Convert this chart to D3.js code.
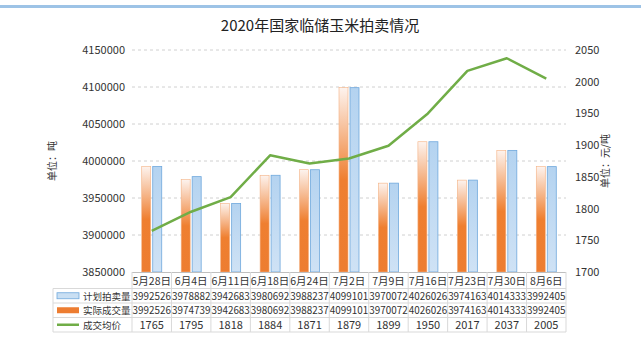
<!DOCTYPE html>
<html>
<head>
<meta charset="utf-8">
<script src="https://cdn.jsdelivr.net/npm/d3@7"></script>
<style>
  body { margin: 0; background: #fff; }
  text { font-family: "Noto Sans CJK SC", "Noto Sans", sans-serif; }
</style>
</head>
<body>
<div id="container-chart"></div>
<script>
const categories = ["5月28日", "6月4日", "6月11日", "6月18日", "6月24日", "7月2日", "7月9日", "7月16日", "7月23日", "7月30日", "8月6日"];
const planned = [3992526, 3978882, 3942683, 3980692, 3988237, 4099101, 3970072, 4026026, 3974163, 4014333, 3992405];
const actual  = [3992526, 3974739, 3942683, 3980692, 3988237, 4099101, 3970072, 4026026, 3974163, 4014333, 3992405];
const price   = [1765, 1795, 1818, 1884, 1871, 1879, 1899, 1950, 2017, 2037, 2005];
const leftTicks = [3850000, 3900000, 3950000, 4000000, 4050000, 4100000, 4150000];
const rightTicks = [1700, 1750, 1800, 1850, 1900, 1950, 2000, 2050];
const seriesNames = ["计划拍卖量", "实际成交量", "成交均价"];

const W = 641, H = 344;
const plot = {left: 132, right: 566, top: 50, bottom: 272};

const svg = d3.select("#container-chart").append("svg")
  .attr("width", W).attr("height", H);

// frame
svg.append("rect").attr("x", 0).attr("y", 0).attr("width", W).attr("height", H).attr("fill", "#fff");
svg.append("rect").attr("x", 0).attr("y", 5).attr("width", W).attr("height", 3).attr("fill", "#9dc3e6");

const defs = svg.append("defs");
const gO = defs.append("linearGradient").attr("id", "gOrange").attr("x1", 0).attr("y1", 0).attr("x2", 0).attr("y2", 1);
gO.append("stop").attr("offset", "0%").attr("stop-color", "#fdf3ee");
gO.append("stop").attr("offset", "50%").attr("stop-color", "#ef7f30");
gO.append("stop").attr("offset", "100%").attr("stop-color", "#ed7d31");
const gB = defs.append("linearGradient").attr("id", "gBlue").attr("x1", 0).attr("y1", 0).attr("x2", 0).attr("y2", 1);
gB.append("stop").attr("offset", "0%").attr("stop-color", "#b4d3f0");
gB.append("stop").attr("offset", "100%").attr("stop-color", "#cfe2f5");

// title
svg.append("text").attr("x", 320).attr("y", 31).attr("text-anchor", "middle")
  .attr("font-size", 15).attr("fill", "#222").text("2020年国家临储玉米拍卖情况");

const x = d3.scaleBand().domain(categories).range([plot.left, plot.right]);
const yL = d3.scaleLinear().domain([3850000, 4150000]).range([plot.bottom, plot.top]);
const yR = d3.scaleLinear().domain([1700, 2050]).range([plot.bottom, plot.top]);

// gridlines
svg.append("g").selectAll("line").data(leftTicks.slice(1)).join("line")
  .attr("x1", plot.left).attr("x2", plot.right)
  .attr("y1", d => yL(d)).attr("y2", d => yL(d))
  .attr("stroke", "#d0d0d0").attr("stroke-dasharray", "3,3");

// axes
const axL = svg.append("g").attr("transform", `translate(${plot.left - 4},0)`)
  .call(d3.axisLeft(yL).tickValues(leftTicks).tickFormat(d3.format("d")).tickSize(0));
const axR = svg.append("g").attr("transform", `translate(${plot.right + 6},0)`)
  .call(d3.axisRight(yR).tickValues(rightTicks).tickFormat(d3.format("d")).tickSize(0));
[axL, axR].forEach(a => {
  a.select(".domain").remove();
  a.selectAll("text").attr("font-size", 11).attr("fill", "#333");
});

svg.append("text").attr("transform", "translate(56,161) rotate(-90)")
  .attr("text-anchor", "middle").attr("font-size", 10).attr("fill", "#333").text("单位：吨");
svg.append("text").attr("transform", "translate(609,161) rotate(-90)")
  .attr("text-anchor", "middle").attr("font-size", 10).attr("fill", "#333").text("单位：元/吨");

// bars
const barW = 9;
const bars = svg.append("g");
bars.selectAll(".bar-a").data(actual).join("rect").attr("class", "bar-a")
  .attr("x", (d, i) => x(categories[i]) + x.bandwidth() / 2 - barW - 1)
  .attr("y", d => yL(d)).attr("width", barW).attr("height", d => plot.bottom - yL(d))
  .attr("fill", "url(#gOrange)").attr("stroke", "#f4b183").attr("stroke-width", 0.6);
bars.selectAll(".bar-p").data(planned).join("rect").attr("class", "bar-p")
  .attr("x", (d, i) => x(categories[i]) + x.bandwidth() / 2 + 1)
  .attr("y", d => yL(d)).attr("width", barW).attr("height", d => plot.bottom - yL(d))
  .attr("fill", "url(#gBlue)").attr("stroke", "#6fa8dc").attr("stroke-width", 0.8);

// price line
svg.append("path").datum(price)
  .attr("fill", "none").attr("stroke", "#70ad47").attr("stroke-width", 2.5)
  .attr("stroke-linejoin", "round")
  .attr("d", d3.line().x((d, i) => x(categories[i]) + x.bandwidth() / 2).y(d => yR(d)));

// data table
const rowH = 14.5;
const tTop = 274;
const legLeft = 53;
const grid = svg.append("g").attr("stroke", "#d9d9d9").attr("stroke-width", 1);
grid.append("line").attr("x1", plot.left).attr("x2", plot.right).attr("y1", plot.bottom + 0.5).attr("y2", plot.bottom + 0.5).attr("stroke", "#bfbfbf");
for (let r = 1; r <= 4; r++) {
  grid.append("line").attr("x1", legLeft).attr("x2", plot.right)
    .attr("y1", tTop + rowH * r).attr("y2", tTop + rowH * r);
}
grid.append("line").attr("x1", legLeft).attr("x2", legLeft).attr("y1", tTop + rowH).attr("y2", tTop + rowH * 4);
grid.selectAll(".v").data(categories.concat(["end"])).join("line")
  .attr("x1", (d, i) => plot.left + i * x.bandwidth()).attr("x2", (d, i) => plot.left + i * x.bandwidth())
  .attr("y1", plot.bottom).attr("y2", tTop + rowH * 4);

// category labels
svg.append("g").selectAll("text").data(categories).join("text")
  .attr("x", d => x(d) + x.bandwidth() / 2).attr("y", tTop + rowH / 2 + 4)
  .attr("text-anchor", "middle").attr("font-size", 10.5).attr("fill", "#333").text(d => d);

const rows = [planned, actual, price];
rows.forEach((vals, r) => {
  svg.append("g").selectAll("text").data(vals).join("text")
    .attr("x", (d, i) => x(categories[i]) + x.bandwidth() / 2)
    .attr("y", tTop + rowH * (r + 1) + rowH / 2 + 4)
    .attr("text-anchor", "middle").attr("font-size", r === 2 ? 11 : 10.5).attr("fill", "#333")
    .attr("textLength", d => String(d).length > 5 ? x.bandwidth() - 1 : null)
    .attr("lengthAdjust", "spacingAndGlyphs")
    .text(d => d);
  svg.append("text").attr("x", 83).attr("y", tTop + rowH * (r + 1) + rowH / 2 + 4)
    .attr("font-size", 9.5).attr("fill", "#333").text(seriesNames[r]);
});

// legend keys
const ly = (r) => tTop + rowH * (r + 1) + rowH / 2;
svg.append("rect").attr("x", 57).attr("y", ly(0) - 3).attr("width", 22).attr("height", 6)
  .attr("fill", "#c9dff3").attr("stroke", "#6fa8dc").attr("stroke-width", 0.8);
svg.append("rect").attr("x", 57).attr("y", ly(1) - 3).attr("width", 22).attr("height", 6)
  .attr("fill", "#ed7d31");
svg.append("line").attr("x1", 57).attr("x2", 79).attr("y1", ly(2)).attr("y2", ly(2))
  .attr("stroke", "#70ad47").attr("stroke-width", 2.5);
</script>
</body>
</html>
